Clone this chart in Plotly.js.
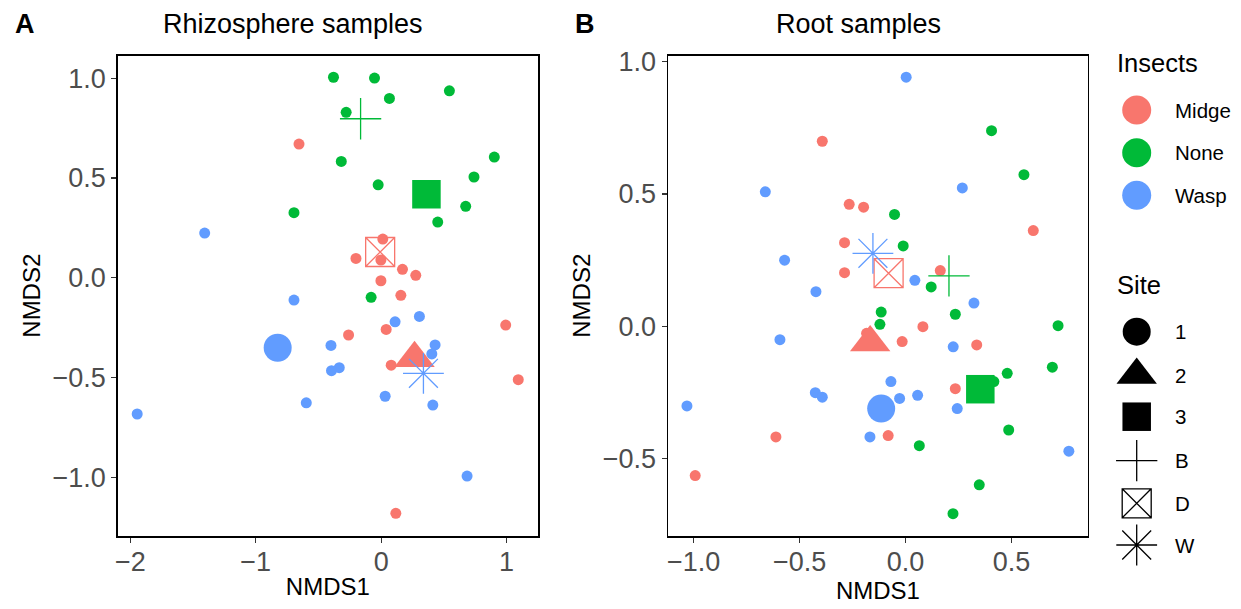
<!DOCTYPE html>
<html>
<head>
<meta charset="utf-8">
<script src="https://cdn.plot.ly/plotly-3.0.1.min.js"></script>
<style>html,body{margin:0;padding:0;background:#fff;}#chart{width:1241px;height:609px;}</style>
</head>
<body>
<div id="chart"></div>
<script>
// ---------- DATA ----------
var insects = ['Midge', 'None', 'Wasp'];
var insectColors = ['#F8766D', '#00BA38', '#619CFF'];
var sites = ['1', '2', '3', 'B', 'D', 'W'];

// Panel A: Rhizosphere samples (sample points)
var rhizoMidgeX = [-0.655, 0.013, -0.201, -0.002, 0.170, 0.276, -0.002, 0.157, 0.993, -0.260, 0.040, 0.080, 1.093, 0.117];
var rhizoMidgeY = [0.670, 0.194, 0.097, 0.089, 0.042, 0.012, -0.015, -0.088, -0.237, -0.287, -0.259, -0.438, -0.511, -1.181];
var rhizoNoneX = [-0.380, -0.053, 0.066, 0.544, -0.279, -0.318, -0.024, 0.902, 0.740, 0.674, 0.451, -0.695, -0.080];
var rhizoNoneY = [1.005, 1.001, 0.899, 0.937, 0.829, 0.583, 0.466, 0.605, 0.505, 0.358, 0.279, 0.326, -0.098];
var rhizoWaspX = [-1.407, -0.695, 0.111, 0.305, -0.400, 0.430, 0.404, -0.334, -0.396, -0.597, 0.032, 0.412, -1.945, 0.685];
var rhizoWaspY = [0.224, -0.112, -0.221, -0.194, -0.339, -0.337, -0.382, -0.451, -0.466, -0.627, -0.594, -0.638, -0.683, -0.994];

// Panel A: site centroids
var rhizoCentX = [-0.825, 0.266, 0.361, -0.164, -0.008, 0.337];
var rhizoCentY = [-0.351, -0.404, 0.418, 0.797, 0.129, -0.479];
var rhizoCentInsect = ['Wasp', 'Midge', 'None', 'None', 'Midge', 'Wasp'];

// Panel B: Root samples (sample points)
var rootMidgeX = [-0.393, -0.266, -0.198, 0.603, -0.288, -0.288, 0.164, 0.082, -0.016, 0.336, -0.184, 0.235, -0.082, -0.612, -0.993];
var rootMidgeY = [0.699, 0.461, 0.450, 0.362, 0.316, 0.203, 0.211, -0.001, -0.057, -0.070, -0.026, -0.235, -0.412, -0.417, -0.563];
var rootNoneX = [0.406, 0.559, -0.052, -0.011, 0.121, -0.115, -0.121, 0.235, 0.720, 0.693, 0.480, 0.417, 0.487, 0.065, 0.348, 0.224];
var rootNoneY = [0.739, 0.573, 0.423, 0.304, 0.149, 0.054, 0.008, 0.046, 0.003, -0.154, -0.177, -0.208, -0.391, -0.450, -0.598, -0.707];
var rootWaspX = [0.003, -0.662, 0.268, -0.571, 0.044, -0.423, 0.323, -0.593, 0.225, -0.069, -0.426, -0.393, -0.028, 0.057, 0.244, -1.032, -0.168, 0.771];
var rootWaspY = [0.941, 0.508, 0.523, 0.250, 0.174, 0.131, 0.088, -0.050, -0.077, -0.208, -0.250, -0.267, -0.272, -0.260, -0.310, -0.300, -0.417, -0.471];

// Panel B: site centroids
var rootCentX = [-0.115, -0.167, 0.353, 0.205, -0.080, -0.154];
var rootCentY = [-0.310, -0.061, -0.237, 0.191, 0.201, 0.276];
var rootCentInsect = ['Wasp', 'Midge', 'None', 'None', 'Midge', 'Wasp'];

// Tick labels
var xTicksA = [-2, -1, 0, 1];
var xTickTextA = ['\u22122', '\u22121', '0', '1'];
var yTicksA = [-1, -0.5, 0, 0.5, 1];
var yTickTextA = ['\u22121.0', '\u22120.5', '0.0', '0.5', '1.0'];
var xTicksB = [-1, -0.5, 0, 0.5];
var xTickTextB = ['\u22121.0', '\u22120.5', '0.0', '0.5'];
var yTicksB = [-0.5, 0, 0.5, 1];
var yTickTextB = ['\u22120.5', '0.0', '0.5', '1.0'];

// ---------- STYLE ----------
var FONT = 'Liberation Sans, Arial, Helvetica, sans-serif';
var siteSymbols = {'1': 'circle', '2': 'triangle-up', '3': 'square', 'B': 'cross-thin-open', 'D': 'square-x-open', 'W': 'asterisk-open'};
var siteSizes = {'1': 28, '2': 35, '3': 28.5, 'B': 29.5, 'D': 29, 'W': 34};
var PT = 11;

function colorOf(ins) { return insectColors[insects.indexOf(ins)]; }

var traces = [];
function addSamples(xs, ys, ins, xa, ya) {
  traces.push({
    type: 'scatter', mode: 'markers', x: xs, y: ys, xaxis: xa, yaxis: ya,
    name: ins, showlegend: false, hoverinfo: 'x+y+name',
    marker: {symbol: 'circle', size: PT, color: colorOf(ins), line: {width: 0}}
  });
}
function addCentroids(cx, cy, cins, xa, ya) {
  for (var i = 0; i < sites.length; i++) {
    var s = sites[i];
    var open = (s === 'B' || s === 'D' || s === 'W');
    traces.push({
      type: 'scatter', mode: 'markers', x: [cx[i]], y: [cy[i]], xaxis: xa, yaxis: ya,
      name: 'Site ' + s, showlegend: false,
      marker: {symbol: siteSymbols[s], size: siteSizes[s], color: colorOf(cins[i]),
               line: {width: open ? 1.3 : 0, color: colorOf(cins[i])}}
    });
  }
}

addSamples(rhizoMidgeX, rhizoMidgeY, 'Midge', 'x', 'y');
addSamples(rhizoNoneX, rhizoNoneY, 'None', 'x', 'y');
addSamples(rhizoWaspX, rhizoWaspY, 'Wasp', 'x', 'y');
addCentroids(rhizoCentX, rhizoCentY, rhizoCentInsect, 'x', 'y');

addSamples(rootMidgeX, rootMidgeY, 'Midge', 'x2', 'y2');
addSamples(rootNoneX, rootNoneY, 'None', 'x2', 'y2');
addSamples(rootWaspX, rootWaspY, 'Wasp', 'x2', 'y2');
addCentroids(rootCentX, rootCentY, rootCentInsect, 'x2', 'y2');

// ---------- MANUAL LEGEND (pixel-coordinate axis on the right) ----------
var legX = 1136.7, legTextX = 1172.7;
var insectLegY = [110, 152.7, 195.3];
var siteLegY = [331.7, 375, 416.7, 460.7, 503.3, 545];
for (var i = 0; i < insects.length; i++) {
  traces.push({type: 'scatter', mode: 'markers', x: [legX], y: [insectLegY[i]], xaxis: 'x3', yaxis: 'y3',
    showlegend: false, hoverinfo: 'skip', name: insects[i],
    marker: {symbol: 'circle', size: 29, color: insectColors[i], line: {width: 0}}});
}
for (var j = 0; j < sites.length; j++) {
  var s = sites[j];
  var open = (s === 'B' || s === 'D' || s === 'W');
  traces.push({type: 'scatter', mode: 'markers', x: [legX], y: [siteLegY[j]], xaxis: 'x3', yaxis: 'y3',
    showlegend: false, hoverinfo: 'skip', name: s,
    marker: {symbol: siteSymbols[s], size: siteSizes[s], color: '#000000', line: {width: open ? 1.3 : 0, color: '#000000'}}});
}

var annotations = [];
function ann(text, x, y, size, opts) {
  var a = {text: text, x: x, y: y, xref: 'x3', yref: 'y3', showarrow: false,
           xanchor: 'left', yanchor: 'middle', font: {family: FONT, size: size, color: '#000000'}};
  for (var k in (opts || {})) a[k] = opts[k];
  annotations.push(a);
}
ann('Insects', 1114.5, 63, 25.5);
for (var i2 = 0; i2 < insects.length; i2++) ann(insects[i2], legTextX, insectLegY[i2], 20.5);
ann('Site', 1114.5, 285, 25.5);
for (var j2 = 0; j2 < sites.length; j2++) ann(sites[j2], legTextX, siteLegY[j2], 20.5);

// panel titles and tags (paper coords)
function pann(text, xpx, ypx, size, bold, anchor) {
  annotations.push({text: bold ? '<b>' + text + '</b>' : text, x: xpx / 1241, y: 1 - ypx / 609,
    xref: 'paper', yref: 'paper', showarrow: false, xanchor: anchor || 'left', yanchor: 'middle',
    font: {family: FONT, size: size, color: '#000000'}});
}
pann('A', 13, 24, 27, true);
pann('B', 573, 24, 27, true);
pann('Rhizosphere samples', 161, 24, 27, false);
pann('Root samples', 774, 24, 27, false);

function axisCommon(extra) {
  var a = {
    showline: true, mirror: true, linecolor: '#000000', linewidth: 1.8,
    showgrid: false, zeroline: false, ticks: 'outside', ticklen: 5, tickwidth: 1.1, tickcolor: '#333333',
    tickfont: {family: FONT, size: 27, color: '#4D4D4D'}, fixedrange: true, automargin: false
  };
  for (var k in extra) a[k] = extra[k];
  return a;
}
var yDom = [(609 - 535.7) / 609, (609 - 55.7) / 609];
var xTitleFont = {family: FONT, size: 24, color: '#000000'};

var layout = {
  width: 1241, height: 609,
  margin: {l: 0, r: 0, t: 0, b: 0},
  paper_bgcolor: '#ffffff', plot_bgcolor: 'rgba(0,0,0,0)',
  showlegend: false,
  xaxis: axisCommon({domain: [118 / 1241, 537.7 / 1241], range: [-2.098, 1.248], anchor: 'y',
    tickvals: xTicksA, ticktext: xTickTextA, ticklabelstandoff: -4,
    title: {text: 'NMDS1', font: xTitleFont, standoff: 2}}),
  yaxis: axisCommon({domain: yDom, range: [-1.293, 1.113], anchor: 'x',
    tickvals: yTicksA, ticktext: yTickTextA,
    title: {text: 'NMDS2', font: xTitleFont, standoff: 5}}),
  xaxis2: axisCommon({domain: [668.3 / 1241, 1087.5 / 1241], range: [-1.120, 0.859], anchor: 'y2',
    tickvals: xTicksB, ticktext: xTickTextB, ticklabelstandoff: -4,
    title: {text: 'NMDS1', font: xTitleFont, standoff: 2}}),
  yaxis2: axisCommon({domain: yDom, range: [-0.790, 1.022], anchor: 'x2',
    tickvals: yTicksB, ticktext: yTickTextB,
    title: {text: 'NMDS2', font: xTitleFont, standoff: 5}}),
  xaxis3: {domain: [1100 / 1241, 1], range: [1100, 1241], visible: false, fixedrange: true, anchor: 'y3'},
  yaxis3: {domain: [0, 1], range: [609, 0], visible: false, fixedrange: true, anchor: 'x3'},
  annotations: annotations
};

Plotly.newPlot('chart', traces, layout, {displayModeBar: false, staticPlot: true});
</script>
</body>
</html>
